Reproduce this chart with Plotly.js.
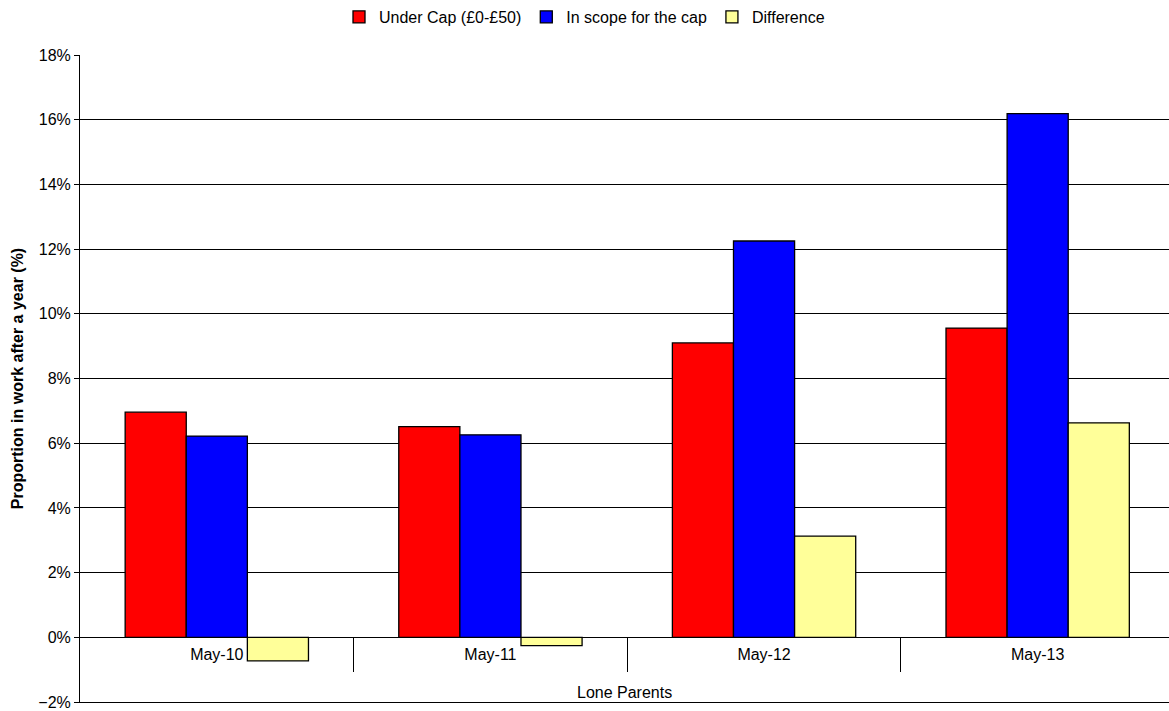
<!DOCTYPE html>
<html>
<head>
<meta charset="utf-8">
<script src="https://cdn.plot.ly/plotly-3.0.1.min.js"></script>
<style>
  html, body { margin: 0; padding: 0; background: #ffffff; }
  #chart { width: 1169px; height: 711px; }
</style>
</head>
<body>
<div id="chart"></div>
<script>
// Proportion in work after a year, lone parents
const categories = ["May-10", "May-11", "May-12", "May-13"];
const underCap = [6.96, 6.51, 9.10, 9.56];
const inScope = [6.22, 6.26, 12.25, 16.19];
const difference = [-0.73, -0.26, 3.13, 6.63];
const seriesNames = ["Under Cap (£0-£50)", "In scope for the cap", "Difference"];
const groupLabel = "Lone Parents";

const font = "Liberation Sans, Arial, sans-serif";
// the last group runs slightly past the right edge of the picture
const xRange = [-0.5, 3.48];

function barTrace(name, values, color) {
  return {
    type: "bar",
    name: name,
    x: categories,
    y: values,
    marker: { color: color, line: { color: "#000000", width: 1.3 } },
    hoverinfo: "x+y+name",
  };
}

// dividers between the category groups
const boundaries = categories.slice(1).map((c, i) => i + 0.5);

const traces = [
  barTrace(seriesNames[0], underCap, "#ff0000"),
  barTrace(seriesNames[1], inScope, "#0000ff"),
  barTrace(seriesNames[2], difference, "#ffff99"),
  // empty helpers so the divider axis and the bottom frame axis get drawn
  { type: "scatter", mode: "markers", x: boundaries, y: boundaries.map(() => null), xaxis: "x2", showlegend: false, hoverinfo: "skip" },
  { type: "scatter", mode: "markers", x: boundaries, y: boundaries.map(() => null), xaxis: "x3", showlegend: false, hoverinfo: "skip" },
];

const layout = {
  width: 1169,
  height: 711,
  paper_bgcolor: "#ffffff",
  plot_bgcolor: "#ffffff",
  font: { family: font, size: 16, color: "#000000" },
  margin: { l: 80, r: 0, t: 55, b: 9 },
  barmode: "group",
  bargap: 0.33,
  bargroupgap: 0,
  showlegend: true,
  legend: {
    orientation: "h",
    xref: "container",
    yref: "container",
    x: 0.5,
    xanchor: "center",
    y: 1.0,
    yanchor: "top",
    font: { family: font, size: 16 },
    itemwidth: 30,
    tracegroupgap: 0,
  },
  xaxis: {
    type: "category",
    anchor: "free",
    position: 0.1,
    range: xRange,
    showline: true,
    linecolor: "#000000",
    linewidth: 1,
    ticks: "",
    ticklabelstandoff: 2,
    tickfont: { family: font, size: 16 },
    showgrid: false,
    zeroline: false,
  },
  xaxis2: {
    overlaying: "x",
    anchor: "free",
    position: 0.1,
    range: xRange,
    tickmode: "array",
    tickvals: boundaries,
    ticks: "outside",
    ticklen: 34,
    tickcolor: "#000000",
    tickwidth: 1,
    showticklabels: false,
    showgrid: false,
    zeroline: false,
    showline: false,
  },
  xaxis3: {
    overlaying: "x",
    anchor: "y",
    range: xRange,
    showline: true,
    linecolor: "#000000",
    linewidth: 1,
    ticks: "",
    showticklabels: false,
    showgrid: false,
    zeroline: false,
  },
  yaxis: {
    range: [-2, 18],
    dtick: 2,
    tick0: 0,
    ticksuffix: "%",
    showgrid: true,
    gridcolor: "#000000",
    gridwidth: 1,
    zeroline: true,
    zerolinecolor: "#000000",
    zerolinewidth: 1,
    showline: true,
    linecolor: "#000000",
    ticks: "outside",
    ticklen: 5,
    tickcolor: "#000000",
    tickfont: { family: font, size: 16 },
    title: {
      text: "Proportion in work after a year (%)",
      font: { family: font, size: 16, weight: "bold" },
      standoff: 10,
    },
  },
  annotations: [
    {
      text: groupLabel,
      xref: "paper",
      yref: "y",
      x: 0.5,
      y: -1.7,
      xanchor: "center",
      yanchor: "middle",
      showarrow: false,
      font: { family: font, size: 16 },
    },
  ],
};

Plotly.newPlot("chart", traces, layout, { displayModeBar: false, staticPlot: true });
</script>
</body>
</html>
